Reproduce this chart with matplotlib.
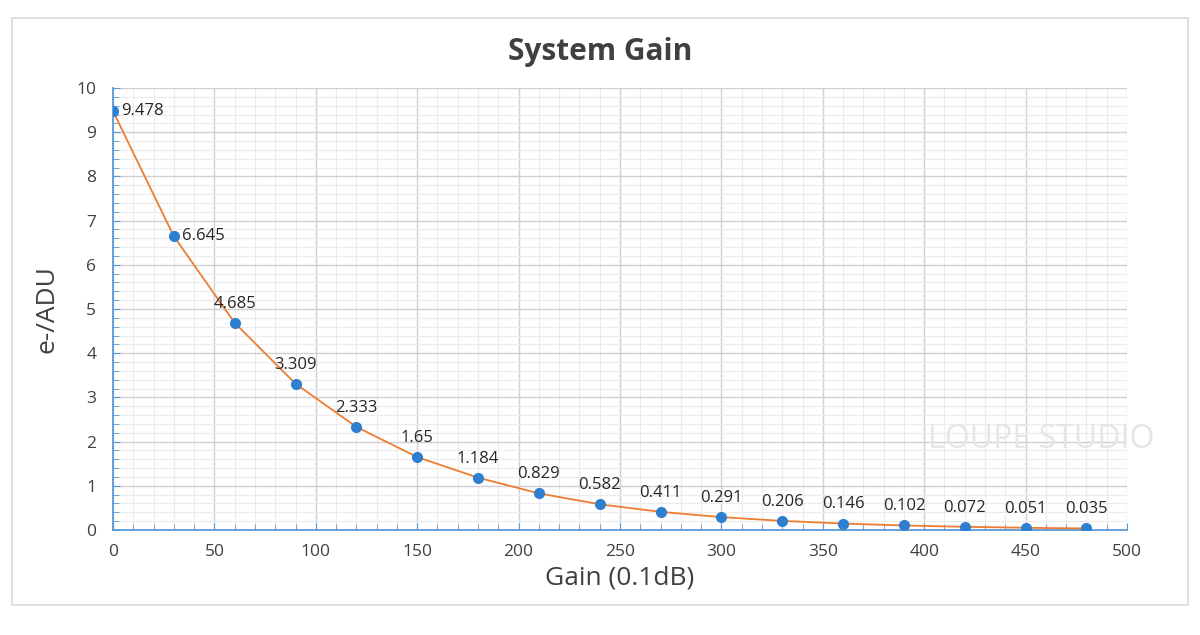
import numpy as np
import matplotlib.pyplot as plt
from matplotlib.patches import Rectangle
from matplotlib.ticker import MultipleLocator

# Dados
gain = [0, 30, 60, 90, 120, 150, 180, 210, 240, 270, 300, 330, 360, 390, 420, 450, 480]
e_adu = [9.478, 6.645, 4.685, 3.309, 2.333, 1.65, 1.184, 0.829, 0.582, 0.411,
         0.291, 0.206, 0.146, 0.102, 0.072, 0.051, 0.035]
labels = ['9.478', '6.645', '4.685', '3.309', '2.333', '1.65', '1.184', '0.829', '0.582',
          '0.411', '0.291', '0.206', '0.146', '0.102', '0.072', '0.051', '0.035']

plt.rcParams['font.family'] = ['Open Sans', 'DejaVu Sans']

fig = plt.figure(figsize=(12, 6.35), dpi=100)
ax = fig.add_axes([113/1200, 1 - 530/635, (1127-113)/1200, (530-88)/635])

# moldura externa
fig.patches.append(Rectangle((12/1200, 1 - 605/635), 1176/1200, 587/635,
                             transform=fig.transFigure, fill=False,
                             edgecolor='#d9d9d9', linewidth=1.2))

ax.plot(gain, e_adu, color='#ed7d31', linewidth=1.3, zorder=3)
ax.plot(gain, e_adu, 'o', color='#2e7fd0', markersize=7, zorder=4)

for i, (x, y, s) in enumerate(zip(gain, e_adu, labels)):
    if i < 2:
        ax.annotate(s, (x, y), xytext=(6, 0), textcoords='offset points',
                    ha='left', va='center', fontsize=12, color='#262626')
    else:
        ax.annotate(s, (x, y), xytext=(0, 8), textcoords='offset points',
                    ha='center', va='bottom', fontsize=12, color='#262626')

ax.set_xlim(0, 500)
ax.set_ylim(0, 10)
ax.xaxis.set_major_locator(MultipleLocator(50))
ax.xaxis.set_minor_locator(MultipleLocator(10))
ax.yaxis.set_major_locator(MultipleLocator(1))
ax.yaxis.set_minor_locator(MultipleLocator(0.2))

ax.grid(which='major', color='#d0d0d0', linewidth=1.0)
ax.grid(which='minor', color='#ececec', linewidth=0.8)
ax.set_axisbelow(True)

for side in ['top', 'right']:
    ax.spines[side].set_visible(False)
for side in ['left', 'bottom']:
    ax.spines[side].set_color('#5b9bd5')
    ax.spines[side].set_linewidth(1.3)

ax.tick_params(which='both', colors='#5b9bd5', direction='in')
ax.tick_params(which='major', length=5, labelcolor='#404040', labelsize=12.5)
ax.tick_params(which='minor', length=4)
ax.tick_params(axis='x', pad=10)
ax.tick_params(axis='y', pad=12)

ax.set_xlabel('Gain (0.1dB)', fontsize=19, color='#404040', labelpad=4)
ax.set_ylabel('e-/ADU', fontsize=19, color='#404040', labelpad=12)
fig.text(0.5, 1 - 52/635, 'System Gain', ha='center', va='center',
         fontsize=21.5, fontweight='bold', color='#404040')

# marca d'água
fig.text(0.868, 1 - 440/635, 'LOUPE STUDIO', ha='center', va='center',
         fontsize=23, color='#e6e6e6', zorder=1)

fig.savefig('out.png', dpi=100)
